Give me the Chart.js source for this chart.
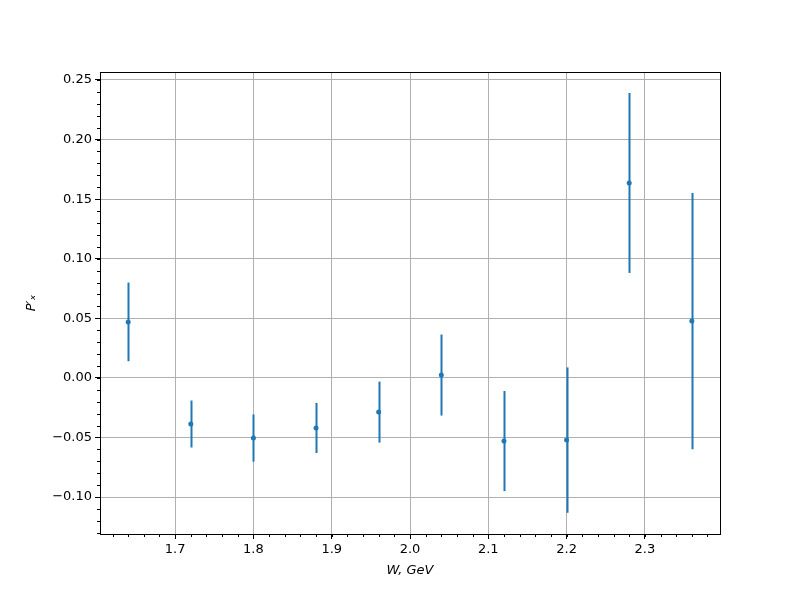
<!DOCTYPE html>
<html>
<head>
<meta charset="utf-8">
<script src="https://cdn.jsdelivr.net/npm/chart.js@4/dist/chart.umd.min.js"></script>
<style>
  html, body { margin: 0; padding: 0; background: #fff; }
  #wrap { width: 800px; height: 600px; }
</style>
</head>
<body>
<div id="wrap"><canvas id="c" width="800" height="600"></canvas></div>
<script>
var wValues = [1.64, 1.72, 1.80, 1.88, 1.96, 2.04, 2.12, 2.20, 2.28, 2.36]
var pxValues = [0.047, -0.0387, -0.0505, -0.042, -0.0287, 0.0024, -0.053, -0.0522, 0.1636, 0.0477]
var pxErrors = [0.033, 0.0197, 0.0198, 0.021, 0.0256, 0.034, 0.042, 0.061, 0.0755, 0.1075]
var xTicks = [1.7, 1.8, 1.9, 2.0, 2.1, 2.2, 2.3]
var yTicks = [-0.10, -0.05, 0.00, 0.05, 0.10, 0.15, 0.20, 0.25]

var BLUE = '#1f77b4'
var FONT = 'DejaVu Sans'

var points = []
for (var i = 0; i < wValues.length; i++) {
    points.push({x: wValues[i], y: pxValues[i]})
}

function fmt(v){
    var s = Math.abs(v).toFixed(2)
    return v < -1e-9 ? '\u2212' + s : s
}

// error bars, drawn under the markers
var errorBars = {
    id: 'errorBars',
    beforeDatasetsDraw: function(chart){
        var c = chart.ctx, xs = chart.scales.x, ys = chart.scales.y
        c.save()
        c.strokeStyle = BLUE
        c.lineWidth = 2
        for (var i = 0; i < wValues.length; i++) {
            var px = Math.round(xs.getPixelForValue(wValues[i])) + 0.5
            c.beginPath()
            c.moveTo(px, ys.getPixelForValue(pxValues[i] + pxErrors[i]))
            c.lineTo(px, ys.getPixelForValue(pxValues[i] - pxErrors[i]))
            c.stroke()
        }
        c.restore()
    }
}

// frame + minor ticks
var frame = {
    id: 'frame',
    afterDraw: function(chart){
        var c = chart.ctx, a = chart.chartArea, xs = chart.scales.x, ys = chart.scales.y
        c.save()
        c.strokeStyle = '#000'
        c.lineWidth = 1
        for (var v = 1.62; v < 2.39; v += 0.02) {
            var px = Math.round(xs.getPixelForValue(v)) + 0.5
            c.beginPath(); c.moveTo(px, a.bottom); c.lineTo(px, a.bottom + 3); c.stroke()
        }
        for (var k = -13; k <= 25; k++) {
            var py = Math.round(ys.getPixelForValue(k / 100)) + 0.5
            c.beginPath(); c.moveTo(a.left, py); c.lineTo(a.left - 3, py); c.stroke()
        }
        c.strokeRect(Math.round(a.left) + 0.5, Math.round(a.top) + 0.5,
                     Math.round(a.right - a.left), Math.round(a.bottom - a.top))
        c.restore()
    }
}

new Chart(document.getElementById('c'), {
    type: 'scatter',
    data: {
        datasets: [{
            data: points,
            backgroundColor: BLUE,
            borderColor: BLUE,
            pointRadius: 2.5,
            pointHoverRadius: 2.5,
            borderWidth: 0
        }]
    },
    options: {
        responsive: false,
        animation: false,
        events: [],
        layout: {padding: {top: 72, right: 80, left: 24, bottom: 22}},
        plugins: {legend: {display: false}, tooltip: {enabled: false}},
        scales: {
            x: {
                type: 'linear',
                min: 1.604,
                max: 2.396,
                afterBuildTicks: function(s){ s.ticks = xTicks.map(function(v){ return {value: v} }) },
                afterFit: function(s){ s.height = 44 },
                border: {display: false},
                grid: {color: '#b0b0b0', lineWidth: 1, tickColor: '#000', tickLength: 5},
                ticks: {
                    color: '#000', padding: 3, maxRotation: 0,
                    font: {family: FONT, size: 13},
                    callback: function(v){ return v.toFixed(1) }
                },
                title: {
                    display: true, text: 'W, GeV', color: '#000',
                    font: {family: FONT, size: 13, style: 'italic'},
                    padding: {top: 2, bottom: 0}
                }
            },
            y: {
                type: 'linear',
                min: -0.131,
                max: 0.2567,
                afterBuildTicks: function(s){ s.ticks = yTicks.map(function(v){ return {value: v} }) },
                afterFit: function(s){ s.width = 76 },
                border: {display: false},
                grid: {color: '#b0b0b0', lineWidth: 1, tickColor: '#000', tickLength: 5},
                ticks: {
                    color: '#000', padding: 3,
                    font: {family: FONT, size: 13},
                    callback: function(v){ return fmt(v) }
                },
                title: {
                    display: true, text: 'P\u2032\u2093', color: '#000',
                    font: {family: FONT, size: 13, style: 'italic'},
                    padding: {top: 0, bottom: 0}
                }
            }
        }
    },
    plugins: [errorBars, frame]
})
</script>
</body>
</html>
